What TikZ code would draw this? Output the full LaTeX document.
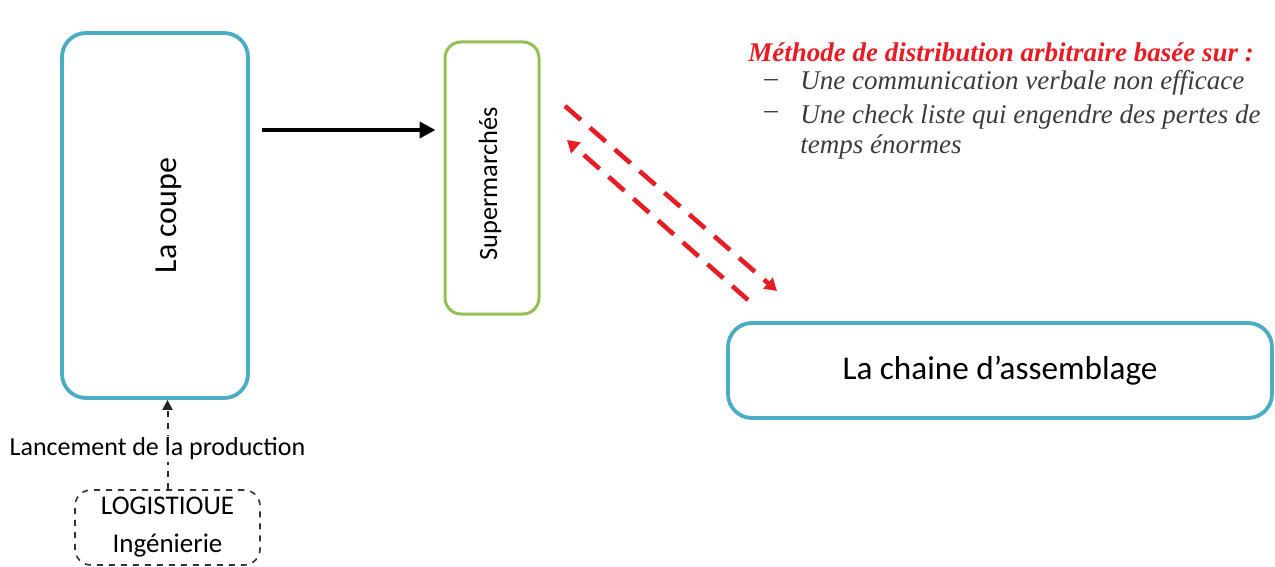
\documentclass[tikz,border=0pt]{standalone}
\usepackage{fontspec}
\setmainfont{Carlito}
\newfontfamily\serifit{Liberation Serif}
\usetikzlibrary{arrows.meta,calc}
\definecolor{boxcyan}{RGB}{75,172,198}
\definecolor{boxgreen}{RGB}{146,192,82}
\definecolor{flowred}{RGB}{232,28,36}
\definecolor{notegray}{RGB}{60,60,60}
\tikzset{
  bigbox/.style={draw=boxcyan,line width=1.9pt,rounded corners=12pt,inner sep=0pt},
  stockbox/.style={draw=boxgreen,line width=1.5pt,rounded corners=8pt,inner sep=0pt},
  planbox/.style={draw=black!80,dashed,line width=0.8pt,rounded corners=8pt,inner sep=0pt},
  mainflow/.style={line width=2pt,-{Triangle[length=8pt,width=8pt]}},
  infoflow/.style={draw=flowred,line width=2.3pt,dash pattern=on 10.5pt off 6pt,
    -{Triangle[length=6pt,width=7pt]}},
  orderflow/.style={draw=black!85,line width=1pt,dash pattern=on 3pt off 3pt,
    -{Triangle[length=5pt,width=5pt]}},
  note/.style={font=\serifit\itshape\fontsize{13.5}{15}\selectfont,text=notegray,anchor=west,inner sep=0pt}
}
\begin{document}
\begin{tikzpicture}[x=0.5pt,y=-0.5pt]
\useasboundingbox (0,0) rectangle (1275,567);

% process boxes
\node[bigbox,minimum width=93pt,minimum height=182.5pt] (coupe) at (155,215.5) {};
\node[rotate=90,font=\fontsize{16}{18}\selectfont] (coupetxt) at ([xshift=7pt]coupe.center) {La coupe};
\node[stockbox,minimum width=47pt,minimum height=136pt] (super) at (492,178) {};
\node[rotate=90,font=\fontsize{13.2}{15}\selectfont] (supertxt) at ([xshift=-1pt,yshift=-3pt]super.center) {Supermarchés};
\node[bigbox,minimum width=272pt,minimum height=47.5pt,font=\fontsize{16.6}{18}\selectfont] (chaine) at (1000,370.5) {La chaine d’assemblage};

% planning box
\node[planbox,minimum width=92.5pt,minimum height=37.5pt,align=center,font=\fontsize{13.5}{19}\selectfont] (logi) at (167.5,527.5) {LOGISTIOUE\\Ingénierie};

% material flow
\coordinate (flowy) at (0,130);
\draw[mainflow] ([xshift=6pt]coupe.east |- flowy) -- ([xshift=-4pt]super.west |- flowy);

% launch order
\draw[orderflow] (logi.north) -- (logi.north |- coupe.south)
  node[pos=0.45,fill=white,inner sep=1pt,font=\fontsize{13}{14}\selectfont,xshift=-5pt] (launch) {Lancement de la production};

% information exchange
\coordinate (r1s) at (565,106);
\coordinate (r1e) at (777,291);
\coordinate (r2s) at (748,300);
\coordinate (r2e) at (567,140);
\draw[infoflow] (r1s) -- (r1e);
\draw[infoflow] (r2s) -- (r2e);

% remarks
\node[anchor=west,inner sep=0pt,text=flowred,font=\serifit\bfseries\itshape\fontsize{13.5}{15}\selectfont] (title) at (748,52) {Méthode de distribution arbitraire basée sur :};
\node[note] (d1) at (764,83) {–};
\node[note] (i1) at (800,83) {Une communication verbale non efficace};
\node[note] (d2) at (764,115) {–};
\node[note,anchor=north west,align=left,font=\serifit\itshape\fontsize{13.5}{15}\selectfont] (i2) at (800,104) {Une check liste qui engendre des pertes de\\temps énormes};
\end{tikzpicture}
\end{document}
